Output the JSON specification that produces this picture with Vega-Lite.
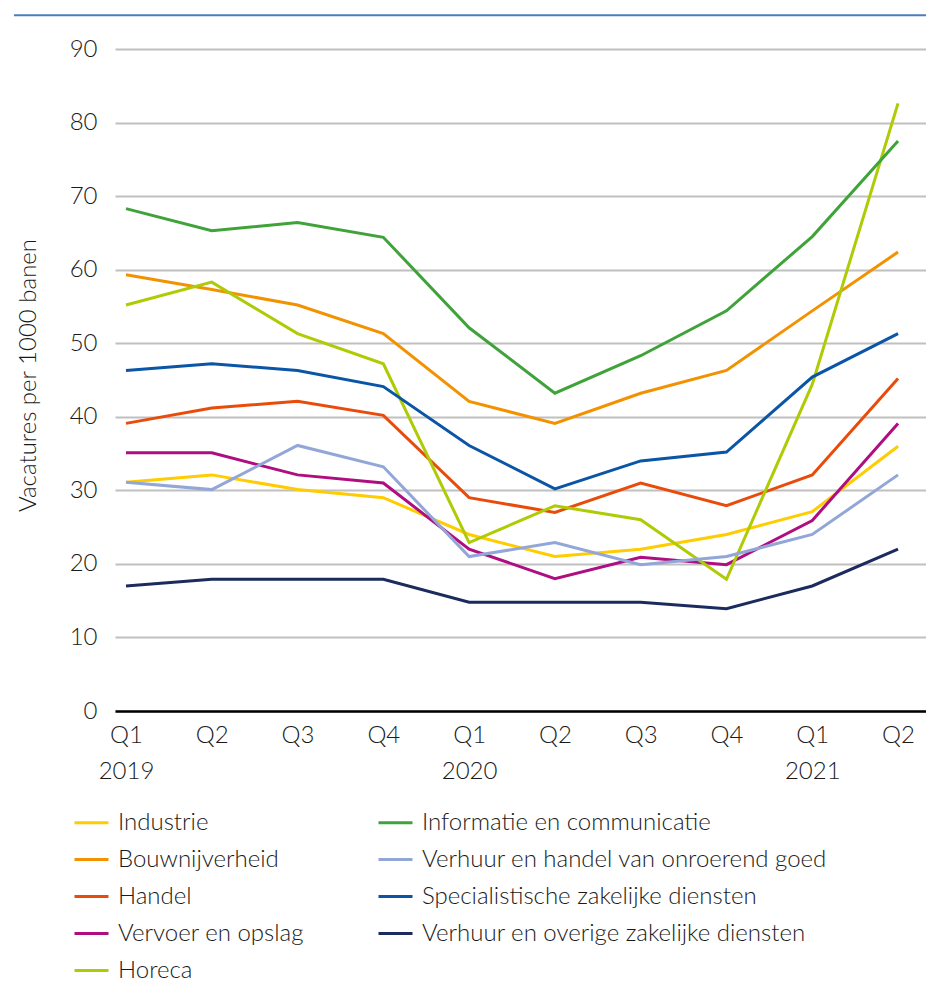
{
  "$schema": "https://vega.github.io/schema/vega-lite/v6.json",
  "width": 811,
  "height": 662,
  "autosize": {"type": "none"},
  "padding": {"left": 115, "top": 49, "right": 0, "bottom": 276},
  "background": "white",
  "config": {
    "view": {"stroke": null},
    "font": "Lato",
    "axis": {"labelFont": "Lato", "titleFont": "Lato", "labelColor": "#1a1a1a", "titleColor": "#1a1a1a", "titleFontWeight": 300, "labelFontWeight": 300},
    "legend": {"labelFont": "Lato", "labelFontWeight": 300}
  },
  "datasets": {
    "vacatures": [
      {"t": 0, "kwartaal": "2019 Q1", "sector": "Industrie", "waarde": 31.1},
      {"t": 1, "kwartaal": "2019 Q2", "sector": "Industrie", "waarde": 32.1},
      {"t": 2, "kwartaal": "2019 Q3", "sector": "Industrie", "waarde": 30.1},
      {"t": 3, "kwartaal": "2019 Q4", "sector": "Industrie", "waarde": 29.0},
      {"t": 4, "kwartaal": "2020 Q1", "sector": "Industrie", "waarde": 24.0},
      {"t": 5, "kwartaal": "2020 Q2", "sector": "Industrie", "waarde": 21.0},
      {"t": 6, "kwartaal": "2020 Q3", "sector": "Industrie", "waarde": 22.0},
      {"t": 7, "kwartaal": "2020 Q4", "sector": "Industrie", "waarde": 24.0},
      {"t": 8, "kwartaal": "2021 Q1", "sector": "Industrie", "waarde": 27.1},
      {"t": 9, "kwartaal": "2021 Q2", "sector": "Industrie", "waarde": 36.0},

      {"t": 0, "kwartaal": "2019 Q1", "sector": "Bouwnijverheid", "waarde": 59.3},
      {"t": 1, "kwartaal": "2019 Q2", "sector": "Bouwnijverheid", "waarde": 57.3},
      {"t": 2, "kwartaal": "2019 Q3", "sector": "Bouwnijverheid", "waarde": 55.2},
      {"t": 3, "kwartaal": "2019 Q4", "sector": "Bouwnijverheid", "waarde": 51.3},
      {"t": 4, "kwartaal": "2020 Q1", "sector": "Bouwnijverheid", "waarde": 42.1},
      {"t": 5, "kwartaal": "2020 Q2", "sector": "Bouwnijverheid", "waarde": 39.1},
      {"t": 6, "kwartaal": "2020 Q3", "sector": "Bouwnijverheid", "waarde": 43.2},
      {"t": 7, "kwartaal": "2020 Q4", "sector": "Bouwnijverheid", "waarde": 46.3},
      {"t": 8, "kwartaal": "2021 Q1", "sector": "Bouwnijverheid", "waarde": 54.4},
      {"t": 9, "kwartaal": "2021 Q2", "sector": "Bouwnijverheid", "waarde": 62.4},

      {"t": 0, "kwartaal": "2019 Q1", "sector": "Handel", "waarde": 39.1},
      {"t": 1, "kwartaal": "2019 Q2", "sector": "Handel", "waarde": 41.2},
      {"t": 2, "kwartaal": "2019 Q3", "sector": "Handel", "waarde": 42.1},
      {"t": 3, "kwartaal": "2019 Q4", "sector": "Handel", "waarde": 40.2},
      {"t": 4, "kwartaal": "2020 Q1", "sector": "Handel", "waarde": 29.0},
      {"t": 5, "kwartaal": "2020 Q2", "sector": "Handel", "waarde": 27.0},
      {"t": 6, "kwartaal": "2020 Q3", "sector": "Handel", "waarde": 31.0},
      {"t": 7, "kwartaal": "2020 Q4", "sector": "Handel", "waarde": 27.9},
      {"t": 8, "kwartaal": "2021 Q1", "sector": "Handel", "waarde": 32.1},
      {"t": 9, "kwartaal": "2021 Q2", "sector": "Handel", "waarde": 45.2},

      {"t": 0, "kwartaal": "2019 Q1", "sector": "Vervoer en opslag", "waarde": 35.1},
      {"t": 1, "kwartaal": "2019 Q2", "sector": "Vervoer en opslag", "waarde": 35.1},
      {"t": 2, "kwartaal": "2019 Q3", "sector": "Vervoer en opslag", "waarde": 32.1},
      {"t": 3, "kwartaal": "2019 Q4", "sector": "Vervoer en opslag", "waarde": 31.0},
      {"t": 4, "kwartaal": "2020 Q1", "sector": "Vervoer en opslag", "waarde": 22.0},
      {"t": 5, "kwartaal": "2020 Q2", "sector": "Vervoer en opslag", "waarde": 18.0},
      {"t": 6, "kwartaal": "2020 Q3", "sector": "Vervoer en opslag", "waarde": 20.9},
      {"t": 7, "kwartaal": "2020 Q4", "sector": "Vervoer en opslag", "waarde": 19.9},
      {"t": 8, "kwartaal": "2021 Q1", "sector": "Vervoer en opslag", "waarde": 25.9},
      {"t": 9, "kwartaal": "2021 Q2", "sector": "Vervoer en opslag", "waarde": 39.1},

      {"t": 0, "kwartaal": "2019 Q1", "sector": "Horeca", "waarde": 55.2},
      {"t": 1, "kwartaal": "2019 Q2", "sector": "Horeca", "waarde": 58.3},
      {"t": 2, "kwartaal": "2019 Q3", "sector": "Horeca", "waarde": 51.3},
      {"t": 3, "kwartaal": "2019 Q4", "sector": "Horeca", "waarde": 47.2},
      {"t": 4, "kwartaal": "2020 Q1", "sector": "Horeca", "waarde": 22.9},
      {"t": 5, "kwartaal": "2020 Q2", "sector": "Horeca", "waarde": 27.9},
      {"t": 6, "kwartaal": "2020 Q3", "sector": "Horeca", "waarde": 26.0},
      {"t": 7, "kwartaal": "2020 Q4", "sector": "Horeca", "waarde": 17.9},
      {"t": 8, "kwartaal": "2021 Q1", "sector": "Horeca", "waarde": 44.4},
      {"t": 9, "kwartaal": "2021 Q2", "sector": "Horeca", "waarde": 82.6},

      {"t": 0, "kwartaal": "2019 Q1", "sector": "Informatie en communicatie", "waarde": 68.3},
      {"t": 1, "kwartaal": "2019 Q2", "sector": "Informatie en communicatie", "waarde": 65.3},
      {"t": 2, "kwartaal": "2019 Q3", "sector": "Informatie en communicatie", "waarde": 66.4},
      {"t": 3, "kwartaal": "2019 Q4", "sector": "Informatie en communicatie", "waarde": 64.4},
      {"t": 4, "kwartaal": "2020 Q1", "sector": "Informatie en communicatie", "waarde": 52.1},
      {"t": 5, "kwartaal": "2020 Q2", "sector": "Informatie en communicatie", "waarde": 43.2},
      {"t": 6, "kwartaal": "2020 Q3", "sector": "Informatie en communicatie", "waarde": 48.3},
      {"t": 7, "kwartaal": "2020 Q4", "sector": "Informatie en communicatie", "waarde": 54.4},
      {"t": 8, "kwartaal": "2021 Q1", "sector": "Informatie en communicatie", "waarde": 64.5},
      {"t": 9, "kwartaal": "2021 Q2", "sector": "Informatie en communicatie", "waarde": 77.5},

      {"t": 0, "kwartaal": "2019 Q1", "sector": "Verhuur en handel van onroerend goed", "waarde": 31.1},
      {"t": 1, "kwartaal": "2019 Q2", "sector": "Verhuur en handel van onroerend goed", "waarde": 30.1},
      {"t": 2, "kwartaal": "2019 Q3", "sector": "Verhuur en handel van onroerend goed", "waarde": 36.1},
      {"t": 3, "kwartaal": "2019 Q4", "sector": "Verhuur en handel van onroerend goed", "waarde": 33.2},
      {"t": 4, "kwartaal": "2020 Q1", "sector": "Verhuur en handel van onroerend goed", "waarde": 21.0},
      {"t": 5, "kwartaal": "2020 Q2", "sector": "Verhuur en handel van onroerend goed", "waarde": 22.9},
      {"t": 6, "kwartaal": "2020 Q3", "sector": "Verhuur en handel van onroerend goed", "waarde": 19.9},
      {"t": 7, "kwartaal": "2020 Q4", "sector": "Verhuur en handel van onroerend goed", "waarde": 21.0},
      {"t": 8, "kwartaal": "2021 Q1", "sector": "Verhuur en handel van onroerend goed", "waarde": 24.0},
      {"t": 9, "kwartaal": "2021 Q2", "sector": "Verhuur en handel van onroerend goed", "waarde": 32.1},

      {"t": 0, "kwartaal": "2019 Q1", "sector": "Specialistische zakelijke diensten", "waarde": 46.3},
      {"t": 1, "kwartaal": "2019 Q2", "sector": "Specialistische zakelijke diensten", "waarde": 47.2},
      {"t": 2, "kwartaal": "2019 Q3", "sector": "Specialistische zakelijke diensten", "waarde": 46.3},
      {"t": 3, "kwartaal": "2019 Q4", "sector": "Specialistische zakelijke diensten", "waarde": 44.1},
      {"t": 4, "kwartaal": "2020 Q1", "sector": "Specialistische zakelijke diensten", "waarde": 36.1},
      {"t": 5, "kwartaal": "2020 Q2", "sector": "Specialistische zakelijke diensten", "waarde": 30.2},
      {"t": 6, "kwartaal": "2020 Q3", "sector": "Specialistische zakelijke diensten", "waarde": 34.0},
      {"t": 7, "kwartaal": "2020 Q4", "sector": "Specialistische zakelijke diensten", "waarde": 35.2},
      {"t": 8, "kwartaal": "2021 Q1", "sector": "Specialistische zakelijke diensten", "waarde": 45.4},
      {"t": 9, "kwartaal": "2021 Q2", "sector": "Specialistische zakelijke diensten", "waarde": 51.3},

      {"t": 0, "kwartaal": "2019 Q1", "sector": "Verhuur en overige zakelijke diensten", "waarde": 17.0},
      {"t": 1, "kwartaal": "2019 Q2", "sector": "Verhuur en overige zakelijke diensten", "waarde": 17.9},
      {"t": 2, "kwartaal": "2019 Q3", "sector": "Verhuur en overige zakelijke diensten", "waarde": 17.9},
      {"t": 3, "kwartaal": "2019 Q4", "sector": "Verhuur en overige zakelijke diensten", "waarde": 17.9},
      {"t": 4, "kwartaal": "2020 Q1", "sector": "Verhuur en overige zakelijke diensten", "waarde": 14.8},
      {"t": 5, "kwartaal": "2020 Q2", "sector": "Verhuur en overige zakelijke diensten", "waarde": 14.8},
      {"t": 6, "kwartaal": "2020 Q3", "sector": "Verhuur en overige zakelijke diensten", "waarde": 14.8},
      {"t": 7, "kwartaal": "2020 Q4", "sector": "Verhuur en overige zakelijke diensten", "waarde": 13.9},
      {"t": 8, "kwartaal": "2021 Q1", "sector": "Verhuur en overige zakelijke diensten", "waarde": 17.0},
      {"t": 9, "kwartaal": "2021 Q2", "sector": "Verhuur en overige zakelijke diensten", "waarde": 22.0}
    ]
  },
  "layer": [
    {
      "data": {"name": "vacatures"},
      "mark": {"type": "line", "strokeWidth": 3, "clip": false},
      "encoding": {
        "x": {
          "field": "t",
          "type": "quantitative",
          "scale": {"domain": [-0.128, 9.326], "nice": false, "zero": false},
          "axis": {
            "title": null,
            "values": [0, 1, 2, 3, 4, 5, 6, 7, 8, 9],
            "grid": false,
            "ticks": false,
            "domain": true,
            "domainColor": "#000000",
            "domainWidth": 2.5,
            "labelFontSize": 24,
            "labelPadding": 12,
            "labelLineHeight": 36,
            "labelBaseline": "top",
            "labelAlign": "center",
            "labelExpr": "['Q' + (datum.value % 4 + 1), datum.value % 4 == 0 ? '' + (2019 + floor(datum.value / 4)) : '']"
          }
        },
        "y": {
          "field": "waarde",
          "type": "quantitative",
          "scale": {"domain": [0, 90], "nice": false},
          "axis": {
            "title": "Vacatures per 1000 banen",
            "values": [0, 10, 20, 30, 40, 50, 60, 70, 80, 90],
            "grid": true,
            "gridColor": "#c0c0c0",
            "gridWidth": 2,
            "domain": false,
            "ticks": false,
            "labelFontSize": 24,
            "labelPadding": 18,
            "titleFontSize": 24,
            "titleX": -80,
            "titleY": 326,
            "titleBaseline": "alphabetic",
            "titleAngle": 270
          }
        },
        "color": {
          "field": "sector",
          "type": "nominal",
          "scale": {
            "domain": [
              "Industrie",
              "Bouwnijverheid",
              "Handel",
              "Vervoer en opslag",
              "Horeca",
              "Informatie en communicatie",
              "Verhuur en handel van onroerend goed",
              "Specialistische zakelijke diensten",
              "Verhuur en overige zakelijke diensten"
            ],
            "range": [
              "#ffcc00",
              "#f39200",
              "#e94c0a",
              "#af0e80",
              "#afcb05",
              "#3fa33a",
              "#92a6d8",
              "#0a55a5",
              "#1c2b5e"
            ]
          },
          "legend": {
            "title": null,
            "orient": "none",
            "legendX": -42,
            "legendY": 755,
            "columns": 2,
            "direction": "vertical",
            "columnPadding": 68,
            "rowPadding": 6,
            "padding": 0,
            "symbolType": "stroke",
            "symbolSize": 1156,
            "symbolStrokeWidth": 3,
            "labelFontSize": 24,
            "labelOffset": 8,
            "labelColor": "#1a1a1a",
            "labelLimit": 500
          }
        }
      }
    },
    {
      "data": {"values": [{}]},
      "mark": {"type": "rule", "color": "#4a7ebb", "strokeWidth": 2},
      "encoding": {
        "x": {"datum": -1.306},
        "x2": {"datum": 9.326},
        "y": {"datum": 94.6}
      }
    }
  ]
}
